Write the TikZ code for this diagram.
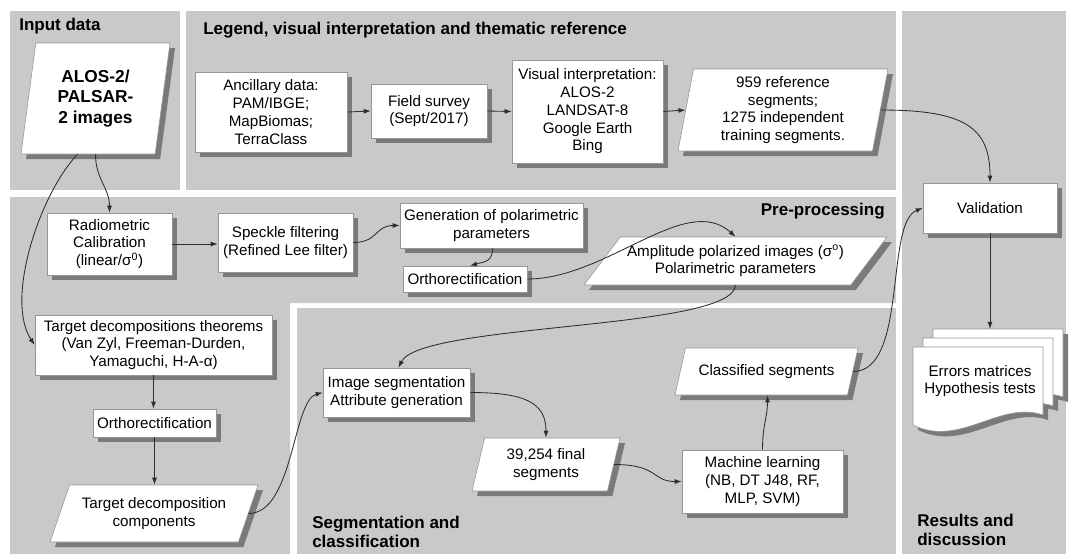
\documentclass[tikz,border=0pt]{standalone}
\usepackage{fontspec}
\setmainfont{Liberation Sans}
\usepackage{tikz}
\usetikzlibrary{shapes.geometric, arrows.meta, calc, shadows}
\usepackage{xcolor}
\definecolor{panelgray}{RGB}{201,201,201}
\definecolor{shadegray}{RGB}{122,122,122}
\definecolor{edgegray}{RGB}{150,150,150}
\definecolor{linkgray}{RGB}{45,45,45}
\tikzset{
    panel/.style={fill=panelgray},
    heading/.style={font=\fontsize{12.1}{13.2}\selectfont\bfseries, inner sep=0pt, align=left},
    boxsize/.style 2 args={minimum width=#1*0.025cm, minimum height=#2*0.025cm},
    proc/.style={draw=edgegray, fill=white, line width=0.4pt, align=center, inner sep=0pt,
        font=\fontsize{10.8}{12.6}\selectfont,
        drop shadow={shadow xshift=0.125cm, shadow yshift=-0.125cm, fill=shadegray, opacity=1}},
    dataset/.style 2 args={proc, trapezium, trapezium left angle=#1, trapezium right angle=#2, trapezium stretches body},
    sheet/.style={draw=edgegray, fill=white, line width=0.4pt},
    link/.style={draw=linkgray, line width=0.6pt, -{Latex[length=5pt, width=3.5pt]}}
}

\begin{document}
\begin{tikzpicture}[x=0.025cm, y=-0.025cm]
    \useasboundingbox (0,0) rectangle (1069,554);
    \fill[white] (0,0) rectangle (1069,554);
    % panels
    \fill[panel] (10,11) rectangle (180,190);
    \fill[panel] (186,11) rectangle (896,190);
    \fill[panel] (902,11) rectangle (1066,554);
    \fill[panel] (10,197) -- (896,197) -- (896,303) -- (290,303) -- (290,554) -- (10,554) -- cycle;
    \fill[panel] (297,308) rectangle (896,554);

    \node[heading, anchor=west] (inputhead) at (19,26) {Input data};
    \node[heading, anchor=west] (legendhead) at (203,30) {Legend, visual interpretation and thematic reference};
    \node[heading, anchor=east] (prehead) at (885,211) {Pre-processing};
    \node[heading, anchor=west] (seghead) at (312,532) {Segmentation and\\classification};
    \node[heading, anchor=west] (resulthead) at (917,530) {Results and\\discussion};

    % input and reference
    \node[dataset={75.4}{104.6}, boxsize={149}{111}, font=\fontsize{12.3}{14.5}\selectfont\bfseries] (alos) at (95.5,98.5) {ALOS-2/\\PALSAR-\\2 images};
    \node[proc, boxsize={152}{80}] (ancillary) at (271,112) {Ancillary data:\\PAM/IBGE;\\MapBiomas;\\TerraClass};
    \node[proc, boxsize={116}{54}] (survey) at (429,111) {Field survey\\(Sept/2017)};
    \node[proc, boxsize={151}{103}] (visual) at (587.5,111.5) {Visual interpretation:\\ALOS-2\\LANDSAT-8\\Google Earth\\Bing};
    \node[dataset={77}{103}, boxsize={210}{82}] (reference) at (783,110) {959 reference\\segments;\\1275 independent\\training segments.};
    \node[proc, boxsize={134}{50}] (validation) at (990,208) {Validation};

    % pre-processing
    \node[proc, boxsize={125}{62}] (radiometric) at (109.5,244) {Radiometric\\Calibration\\(linear/σ\textsuperscript{0})};
    \node[proc, boxsize={135}{59}] (speckle) at (285.5,242.5) {Speckle filtering\\(Refined Lee filter)};
    \node[proc, boxsize={183}{45}] (polgen) at (491.5,225.5) {Generation of polarimetric\\parameters};
    \node[proc, boxsize={124}{26}] (orthoA) at (465,279) {Orthorectification};
    \node[dataset={41.6}{138.4}, boxsize={303}{48}, inner xsep=-0.27cm] (amplitude) at (735.5,261) {Amplitude polarized images (σ\textsuperscript{o})\\Polarimetric parameters};
    \node[proc, boxsize={237}{60}] (decomp) at (153.5,345) {Target decompositions theorems\\(Van Zyl, Freeman-Durden,\\Yamaguchi, H-A-α)};
    \node[proc, boxsize={123}{28}] (orthoB) at (154.5,423) {Orthorectification};
    \node[dataset={58.4}{121.6}, boxsize={208}{57}, inner xsep=-0.12cm] (components) at (154,513.5) {Target decomposition\\components};

    % segmentation and classification
    \node[proc, boxsize={147}{49}] (segment) at (396.5,392.5) {Image segmentation\\Attribute generation};
    \node[dataset={68.4}{111.6}, boxsize={148}{53}] (finalseg) at (546,464.5) {39,254 final\\segments};
    \node[proc, boxsize={161}{63}] (learning) at (762.5,481.5) {Machine learning\\(NB, DT J48, RF,\\MLP, SVM)};
    \node[dataset={53.3}{126.7}, boxsize={183}{47}, inner xsep=-0.3cm] (classified) at (766.5,371.5) {Classified segments};

    % results
    \foreach \lift in {20,10,0}
        \fill[shadegray, shift={(\lift+5,-0.9*\lift+5)}] (913,347) -- (1043,347) -- (1043,415) .. controls (1000,400) and (960,448) .. (913,425) -- cycle;
    \foreach \lift in {20,10,0}
        \filldraw[sheet, shift={(\lift,-0.9*\lift)}] (913,347) -- (1043,347) -- (1043,415) .. controls (1000,400) and (960,448) .. (913,425) -- cycle;
    \node[align=center, inner sep=0pt, font=\fontsize{10.8}{12.6}\selectfont] (errors) at (980,381) {Errors matrices\\Hypothesis tests};
    \coordinate (errtop) at (990,329);

    % connectors
    \draw[link] (alos.south) .. controls +(0,25) and +(0,-25) .. (radiometric.north);
    \draw[link] ($(alos.south)+(-18,0)$) .. controls +(-38,40) and +(-30,-45) .. (decomp.west);
    \draw[link] (ancillary.east) -- (survey.west);
    \draw[link] (survey.east) -- (visual.west);
    \draw[link] (visual.east) -- (reference.west);
    \draw[link] (reference.east) .. controls +(85,0) and +(0,-55) .. (validation.north);
    \draw[link] (radiometric.east) -- (radiometric.east -| speckle.west);
    \draw[link] (speckle.east) .. controls +(25,0) and +(-25,0) .. (polgen.west);
    \draw[link] ($(polgen.south)+(1,0)$) .. controls +(0,14) and +(14,-4) .. ($(orthoA.north)+(5,0)$);
    \draw[link] (orthoA.east) .. controls +(80,0) and +(-50,-45) .. (amplitude.north);
    \draw[link] (amplitude.south) .. controls +(-3,45) and +(22,-45) .. ($(segment.north)+(2,0)$);
    \draw[link] (decomp.south) -- (decomp.south |- orthoB.north);
    \draw[link] (orthoB.south) -- (orthoB.south |- components.north);
    \draw[link] (components.east) .. controls +(45,0) and +(-30,8) .. (segment.west);
    \draw[link] (segment.east) .. controls +(55,0) and +(0,-35) .. (finalseg.north);
    \draw[link] (finalseg.east) .. controls +(45,0) and +(-30,0) .. (learning.west);
    \draw[link] (learning.north) .. controls +(0,-25) and +(0,22) .. ($(learning.north |- classified.south)+(5,0)$);
    \draw[link] (classified.east) .. controls +(55,0) and +(-38,15) .. (validation.west);
    \draw[link] (validation.south) -- (errtop);
\end{tikzpicture}
\end{document}
